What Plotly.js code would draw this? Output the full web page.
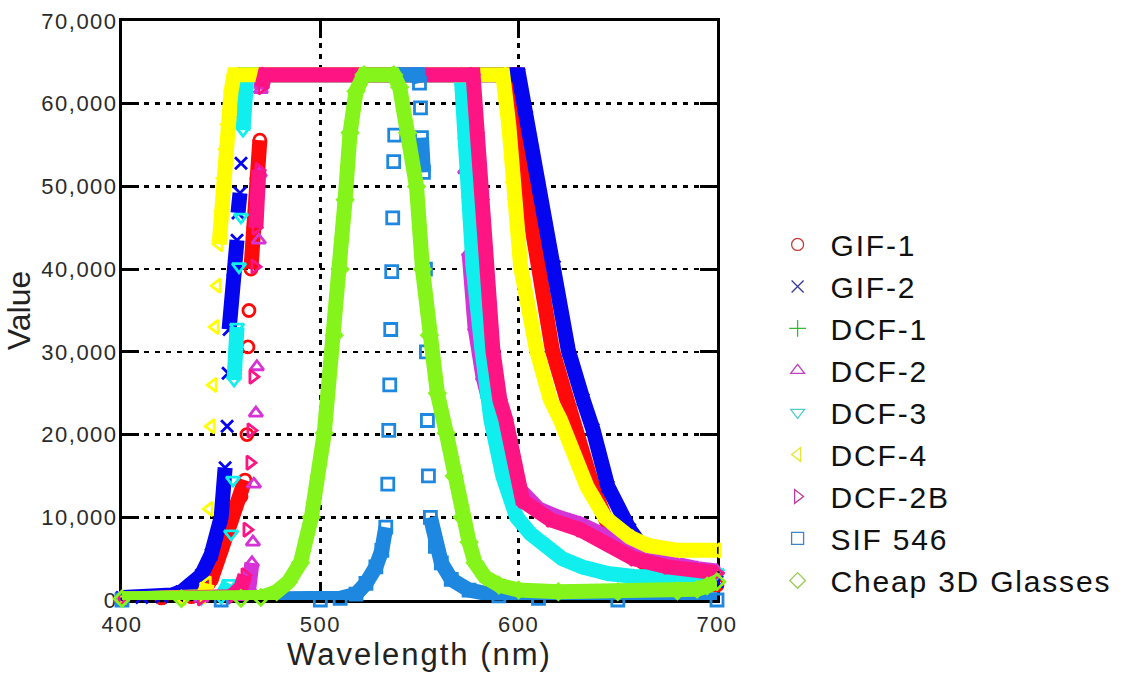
<!DOCTYPE html>
<html>
<head>
<meta charset="utf-8">
<script src="https://cdn.plot.ly/plotly-3.0.1.min.js"></script>
<style>
  html, body { margin: 0; padding: 0; background: #ffffff; }
  #chart { width: 1125px; height: 677px; }
  .legendtext { letter-spacing: 1.8px; }
  .xtick text, .ytick text { letter-spacing: 1.5px; }
  .xtitle { letter-spacing: 2px; }
</style>
</head>
<body>
<div id="chart"></div>
<script>
// ---- Data (wavelength in nm, value in counts) ----
const seriesNames = ["GIF-1", "GIF-2", "DCF-1", "DCF-2", "DCF-3", "DCF-4", "DCF-2B", "SIF 546", "Cheap 3D Glasses"];

const gif1X = [400, 420, 435, 440, 445, 450, 455, 460, 462, 463, 463.5, 464, 465, 466.5, 468, 469.5, 471, 598, 600, 603, 605, 610, 617, 624, 630, 637, 644, 648, 655, 665, 680, 690, 700];
const gif1Y = [200, 250, 400, 800, 2500, 6000, 9500, 12500, 14500, 20000, 30600, 35000, 40000, 45000, 51000, 55600, 63500, 63500, 58000, 50500, 47500, 40300, 30200, 24500, 19500, 14000, 9700, 7600, 5800, 4200, 2600, 2000, 1800];

const gif2X = [400, 410, 420, 425, 430, 435, 440, 445, 450, 452, 453, 453.5, 454, 456, 458, 458.5, 459.5, 460, 461, 462, 600, 604, 610, 618, 625, 632.5, 637.5, 645, 652, 656, 662, 670, 680, 690, 700];
const gif2Y = [300, 300, 400, 600, 1000, 1800, 3000, 5500, 10000, 16000, 21000, 27400, 32700, 38700, 43500, 46800, 49200, 52800, 59000, 63500, 63500, 58400, 50000, 40300, 30200, 24200, 20600, 13700, 9700, 8500, 6500, 5000, 3500, 2500, 2200];

// DCF-1 is listed in the legend but no points of it can be seen in the reference
const dcf1X = [];
const dcf1Y = [];

const dcf2X = [400, 440, 460, 464, 465.5, 466, 466.5, 467.5, 468, 469, 469.5, 470, 471, 571, 573, 575, 578, 582, 586, 590, 600, 610, 620, 631, 645, 658, 670, 680, 690, 700];
const dcf2Y = [100, 200, 400, 1500, 4500, 7000, 14000, 22600, 28200, 43500, 51600, 61700, 63500, 63500, 52000, 42000, 33000, 27000, 23000, 19500, 13500, 11000, 10000, 9200, 7600, 5800, 4800, 4200, 3800, 3500];

const dcf3X = [400, 440, 450, 454, 455, 456, 456.5, 458, 459, 460, 461, 462, 463, 571, 573, 575, 577, 581.5, 584.5, 586, 592, 599, 606, 614, 622, 632, 645, 660, 675, 690, 700];
const dcf3Y = [100, 200, 300, 2000, 8000, 14500, 26600, 33000, 40300, 46300, 56800, 61500, 63500, 63500, 55500, 48400, 40300, 30200, 24200, 21800, 15000, 10000, 8000, 6400, 5000, 4000, 3200, 2800, 2800, 3000, 3300];

const dcf4X = [400, 430, 440, 442, 443, 444, 445, 446, 447, 448, 449, 450, 451, 452, 453, 455, 456.5, 592, 595, 597, 598, 601, 609, 616, 621, 634.5, 643.5, 656, 665, 680, 700];
const dcf4Y = [100, 200, 400, 1000, 2000, 11000, 21000, 26000, 33000, 38000, 43000, 47000, 51000, 54500, 57500, 61500, 63500, 63500, 57500, 50500, 48400, 40300, 30200, 24200, 21800, 13700, 10000, 7600, 6600, 6000, 6000];

const dcf2bX = [400, 440, 455, 460, 462, 463, 464.5, 465, 466, 467, 467.5, 469, 470.5, 472, 577, 579, 580.5, 581.5, 583.5, 587, 590.5, 593.5, 602, 616, 631, 645, 658, 675, 700];
const dcf2bY = [100, 200, 400, 1500, 3000, 8500, 16600, 20500, 27000, 40300, 45000, 52000, 62000, 63500, 63500, 56500, 50000, 48400, 40300, 30200, 24200, 21800, 12000, 9700, 8500, 6900, 5000, 4000, 3300];

const sif546X = [400, 450, 500, 510, 518, 523, 528, 531, 533, 534, 534.5, 535, 535.5, 536, 536.5, 537, 537.5, 538.5, 549, 550, 550.5, 551, 552, 553, 553.5, 554, 554.5, 555.5, 558, 561, 566, 575, 590, 610, 650, 700];
const sif546Y = [0, 0, 0, 200, 700, 2000, 4000, 6000, 8800, 14000, 20500, 26000, 32700, 39700, 46200, 53000, 56200, 63500, 63500, 62500, 59500, 55900, 51700, 40000, 30000, 21700, 15000, 10000, 6500, 4500, 2500, 1200, 500, 200, 0, 0];

const glassesX = [400, 430, 460, 470, 478, 484, 490, 495.5, 502, 507, 510, 512.5, 515, 518, 522, 537, 540, 544, 548.5, 551.5, 555, 559, 563.5, 567.5, 571.5, 575, 578, 583, 590, 600, 620, 650, 680, 690, 695, 700];
const glassesY = [150, 150, 200, 300, 1000, 2200, 4500, 10000, 20200, 32000, 40000, 48400, 56500, 61500, 63500, 63500, 62000, 56500, 50000, 40000, 32000, 25000, 20200, 15000, 10000, 7000, 4500, 2800, 1800, 1200, 1000, 1000, 1100, 1300, 1700, 2200];

const xTickVals = [400, 500, 600, 700];
const yTickVals = [0, 10000, 20000, 30000, 40000, 50000, 60000, 70000];

// ---- styles ----
const bandColors   = ["#ff0a0a", "#0505f0", "#22bb22", "#d633d6", "#11eeee", "#ffff00", "#ff1483", "#1e88e0", "#84f41a"];
const legendColors = ["#c43a3a", "#3a3a9a", "#33bb33", "#c040c0", "#55cccc", "#e6e633", "#c03aa0", "#3a86c8", "#99cc55"];
const symbols = ["circle-open", "x-thin-open", "cross-thin-open", "triangle-up-open", "triangle-down-open",
                 "triangle-left-open", "triangle-right-open", "square-open", "diamond-open"];

const xs = [gif1X, gif2X, dcf1X, dcf2X, dcf3X, dcf4X, dcf2bX, sif546X, glassesX];
const ys = [gif1Y, gif2Y, dcf1Y, dcf2Y, dcf3Y, dcf4Y, dcf2bY, sif546Y, glassesY];

// Where the measured curve is very steep the original samples are far apart and show as
// separate symbols; elsewhere they merge into a solid band. The band (line) is broken on
// segments steeper than this many counts per nm.
const STEEP = 4800;
function bandPath(x, y) {
  const bx = [], by = [];
  for (let i = 0; i < x.length; i++) {
    if (i > 0) {
      const slope = Math.abs((y[i] - y[i - 1]) / (x[i] - x[i - 1]));
      if (slope > STEEP) { bx.push(null); by.push(null); }
    }
    bx.push(x[i]); by.push(y[i]);
  }
  return { x: bx, y: by };
}

const traces = [];
seriesNames.forEach((name, i) => {
  const b = bandPath(xs[i], ys[i]);
  traces.push({
    type: "scatter", mode: "lines",
    x: b.x, y: b.y, connectgaps: false,
    name: name, legendgroup: name, showlegend: false,
    line: { color: bandColors[i], width: 15 },
    hoverinfo: "skip"
  });
  traces.push({
    type: "scatter", mode: "markers",
    x: xs[i], y: ys[i],
    name: name, legendgroup: name, showlegend: false, cliponaxis: false,
    marker: { symbol: symbols[i], size: 12, color: bandColors[i], line: { width: 2.8, color: bandColors[i] } },
    hoverinfo: "x+y+name"
  });
});
// legend entries (marker only, like the reference legend)
seriesNames.forEach((name, i) => {
  traces.push({
    type: "scatter", mode: "markers",
    x: [null], y: [null],
    name: name, legendgroup: name, showlegend: true,
    marker: { symbol: symbols[i], size: 12, color: legendColors[i], line: { width: 1.3, color: legendColors[i] } }
  });
});

const axisCommon = {
  showline: true, linecolor: "#000", linewidth: 3, mirror: "ticks",
  ticks: "inside", ticklen: 17, tickwidth: 3, tickcolor: "#000",
  showgrid: true, gridcolor: "#000", gridwidth: 2.5, griddash: "5px,6px",
  zeroline: false, layer: "below traces",
  tickfont: { family: "Arial, Liberation Sans, sans-serif", size: 22, color: "#2a2a2a" }
};

const layout = {
  width: 1125, height: 677,
  paper_bgcolor: "#ffffff", plot_bgcolor: "#ffffff",
  margin: { l: 122, r: 408, t: 21, b: 77, autoexpand: false },
  showlegend: true,
  xaxis: Object.assign({}, axisCommon, {
    range: [400, 700], tickvals: xTickVals, ticktext: xTickVals.map(String),
    ticklabelstandoff: 3,
    title: { text: "Wavelength (nm)", standoff: 6, font: { family: "Arial, Liberation Sans, sans-serif", size: 31, color: "#222" } }
  }),
  yaxis: Object.assign({}, axisCommon, {
    range: [0, 70000], tickvals: yTickVals, tickformat: ",d",
    ticklabelstandoff: -3,
    title: { text: "Value", standoff: 2, font: { family: "Arial, Liberation Sans, sans-serif", size: 32, color: "#222" } }
  }),
  separators: ".,",
  legend: {
    x: 1.08, xanchor: "left", y: 0.659, yanchor: "top",
    itemwidth: 56,
    bgcolor: "rgba(0,0,0,0)",
    font: { family: "Arial, Liberation Sans, sans-serif", size: 30, color: "#111" },
    traceorder: "normal"
  }
};

Plotly.newPlot("chart", traces, layout, { displayModeBar: false, staticPlot: true });
</script>
</body>
</html>
